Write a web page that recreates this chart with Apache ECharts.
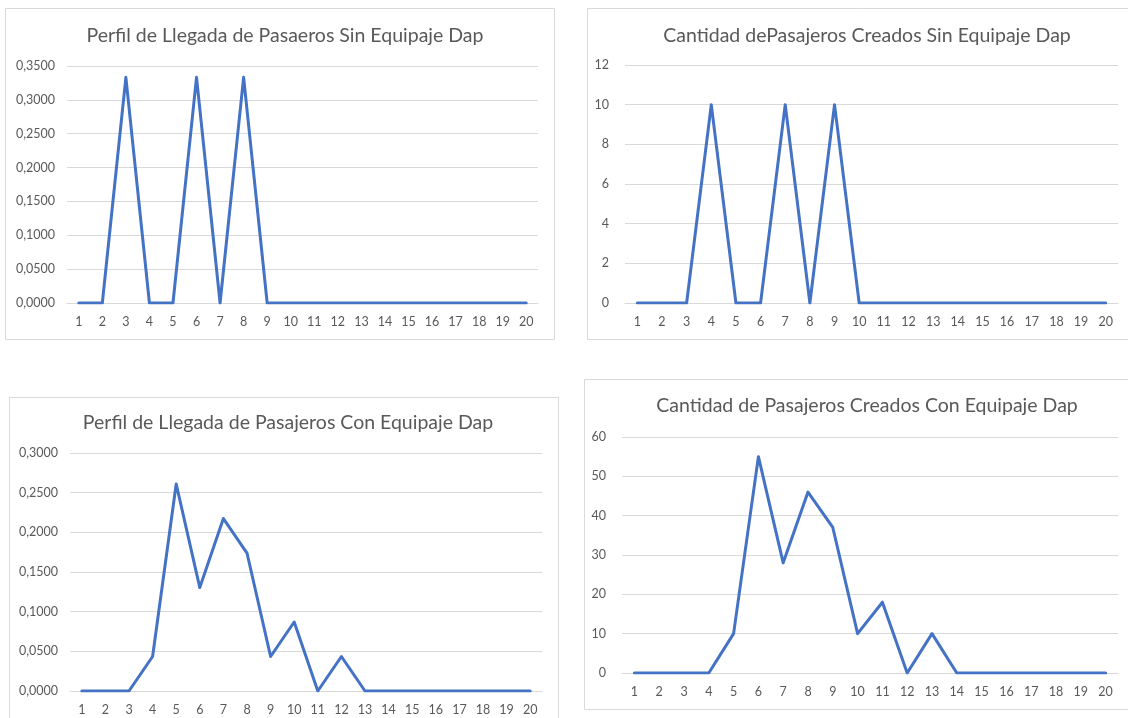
<!DOCTYPE html>
<html>
<head>
<meta charset="utf-8">
<script src="https://cdn.jsdelivr.net/npm/echarts@6/dist/echarts.min.js"></script>
<style>
html,body{margin:0;padding:0;background:#fff;}
#c{width:1128px;height:718px;}
</style>
</head>
<body>
<div id="c"></div>
<script>
const categories = ['1','2','3','4','5','6','7','8','9','10','11','12','13','14','15','16','17','18','19','20'];

const titles = [
  'Perfil de Llegada de Pasaeros Sin Equipaje Dap',
  'Cantidad dePasajeros Creados Sin Equipaje Dap',
  'Perfil de Llegada de Pasajeros Con Equipaje Dap',
  'Cantidad de Pasajeros Creados Con Equipaje Dap'
];

const perfilSin = [0,0,0.3333,0,0,0.3333,0,0.3333,0,0,0,0,0,0,0,0,0,0,0,0];
const cantidadSin = [0,0,0,10,0,0,10,0,10,0,0,0,0,0,0,0,0,0,0,0];
const perfilCon = [0,0,0,0.0435,0.2609,0.1304,0.2174,0.1739,0.0435,0.0870,0,0.0435,0,0,0,0,0,0,0,0];
const cantidadCon = [0,0,0,0,10,55,28,46,37,10,18,0,10,0,0,0,0,0,0,0];

const yMax = [0.35, 12, 0.3, 60];
const yStep = [0.05, 2, 0.05, 10];
const yDecimals = [4, 0, 4, 0];

const seriesData = [perfilSin, cantidadSin, perfilCon, cantidadCon];

const grids = [
  {left:67, right:590, top:66, bottom:415},
  {left:625, right:10, top:65, bottom:415},
  {left:70, right:586, top:453, bottom:27},
  {left:622, right:10, top:437, bottom:45}
];
const titlePos = [
  {cx:280, top:21},
  {cx:862, top:21},
  {cx:283, top:408},
  {cx:862, top:391}
];
const boxes = [
  {x:5, y:8, w:549, h:331},
  {x:587, y:8, w:560, h:331},
  {x:9, y:397, w:549, h:340},
  {x:584, y:379, w:560, h:330}
];

const txt = '#595959';
const gridColor = '#D9D9D9';
const font = 'Lato, "Open Sans", sans-serif';

const option = {
  animation:false,
  backgroundColor:'#fff',
  title: titles.map((t,i)=>({
    text:t,
    left:titlePos[i].cx,
    top:titlePos[i].top,
    textAlign:'center',
    textStyle:{color:txt, fontSize:19.5, fontWeight:'normal', fontFamily:font}
  })),
  graphic: boxes.map(b=>({
    type:'rect', shape:{x:b.x+0.5, y:b.y+0.5, width:b.w, height:b.h},
    style:{fill:null, stroke:gridColor, lineWidth:1}, silent:true, z:-1
  })),
  grid: grids,
  xAxis: grids.map((g,i)=>({
    type:'category', gridIndex:i, data:categories, boundaryGap:true,
    axisLine:{show:true, lineStyle:{color:gridColor, width:1}},
    axisTick:{show:false},
    axisLabel:{color:txt, fontSize:12.5, margin:12, fontFamily:font, interval:0},
    splitLine:{show:false}
  })),
  yAxis: grids.map((g,i)=>({
    type:'value', gridIndex:i, min:0, max:yMax[i], interval:yStep[i],
    axisLine:{show:false}, axisTick:{show:false},
    axisLabel:{color:txt, fontSize:12.5, margin: (i%2===0)?12:16, fontFamily:font,
      formatter: v => v.toFixed(yDecimals[i]).replace('.', ',')},
    splitLine:{show:true, lineStyle:{color:gridColor, width:1}}
  })),
  series: seriesData.map((d,i)=>({
    type:'line', xAxisIndex:i, yAxisIndex:i, data:d,
    showSymbol:false, symbol:'none',
    lineStyle:{color:'#4472C4', width:3, join:'round', cap:'round'},
    itemStyle:{color:'#4472C4'}
  }))
};

const chart = echarts.init(document.getElementById('c'), null, {renderer:'canvas'});
chart.setOption(option);
</script>
</body>
</html>
